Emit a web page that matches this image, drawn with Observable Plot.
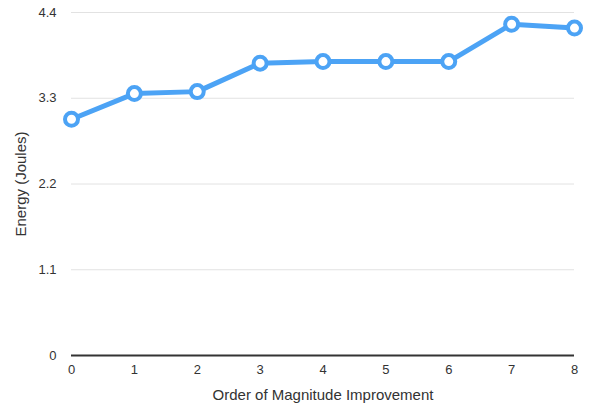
<!DOCTYPE html>
<html>
<head>
<meta charset="utf-8">
<script src="https://cdn.jsdelivr.net/npm/d3@7"></script>
<script src="https://cdn.jsdelivr.net/npm/@observablehq/plot@0.6"></script>
<style>
  html, body { margin: 0; padding: 0; background: #fff; }
  #chart { width: 592px; height: 403px; }
</style>
</head>
<body>
<div id="chart"></div>
<script>
const improvement = [0, 1, 2, 3, 4, 5, 6, 7, 8];
const energy = [3.03, 3.36, 3.385, 3.75, 3.77, 3.77, 3.77, 4.25, 4.2];
const yTicks = [0, 1.1, 2.2, 3.3, 4.4];
const xTicks = [0, 1, 2, 3, 4, 5, 6, 7, 8];
const xTitle = "Order of Magnitude Improvement";
const yTitle = "Energy (Joules)";

const data = improvement.map((x, i) => ({x, y: energy[i]}));
const blue = "#4ca3f5";
const font = "'Liberation Sans', Arial, Helvetica, sans-serif";

const plot = Plot.plot({
  width: 592,
  height: 403,
  marginLeft: 71,
  marginRight: 18,
  marginTop: 12,
  marginBottom: 48,
  style: {fontFamily: font, fontSize: "13px", color: "#333", background: "#fff"},
  x: {domain: [0, 8]},
  y: {domain: [0, 4.4]},
  marks: [
    Plot.gridY(yTicks.filter(d => d > 0), {stroke: "#e2e2e2", strokeOpacity: 1, strokeWidth: 1}),
    Plot.ruleY([0], {stroke: "#333", strokeWidth: 2}),
    Plot.axisY({ticks: yTicks, tickSize: 0, tickPadding: 15, tickFormat: d => String(d), label: null, fontSize: 13}),
    Plot.axisY({ticks: [], tickSize: 0, label: yTitle, labelAnchor: "center", labelArrow: "none", labelOffset: 56, fontSize: 15}),
    Plot.axisX({ticks: xTicks, tickSize: 0, tickPadding: 9, tickFormat: d => String(d), label: null, fontSize: 13}),
    Plot.axisX({ticks: [], tickSize: 0, label: xTitle, labelAnchor: "center", labelArrow: "none", labelOffset: 44, fontSize: 15}),
    Plot.line(data, {x: "x", y: "y", stroke: blue, strokeWidth: 5, strokeLinejoin: "round", strokeLinecap: "round"}),
    Plot.dot(data, {x: "x", y: "y", r: 6.5, fill: "#fff", stroke: blue, strokeWidth: 4})
  ]
});
document.getElementById("chart").appendChild(plot);
</script>
</body>
</html>
